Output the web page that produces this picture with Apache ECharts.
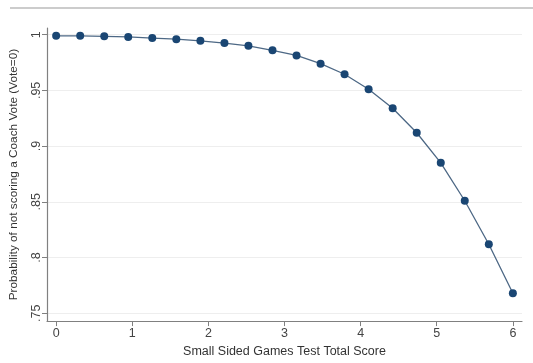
<!DOCTYPE html>
<html><head><meta charset="utf-8">
<script src="https://cdn.jsdelivr.net/npm/echarts@6/dist/echarts.min.js"></script>
<style>html,body{margin:0;padding:0;background:#fff}#c{width:533px;height:363px}</style>
</head><body><div id="c"></div>
<script>
const xValues = [0,0.316,0.632,0.947,1.263,1.579,1.895,2.211,2.526,2.842,3.158,3.474,3.789,4.105,4.421,4.737,5.053,5.368,5.684,6];
const yValues = [0.999,0.999,0.9985,0.998,0.997,0.996,0.9945,0.9925,0.990,0.986,0.9814,0.974,0.9645,0.951,0.934,0.912,0.885,0.851,0.812,0.768];
const xTicks = [0,1,2,3,4,5,6];
const yTicks = [0.75,0.8,0.85,0.9,0.95,1];
const xName = 'Small Sided Games Test Total Score';
const yName = 'Probability of not scoring a Coach Vote (Vote=0)';

const chart = echarts.init(document.getElementById('c'), null, {renderer:'canvas'});
const fmt = v => { const s = String(+v.toFixed(2)); return s.startsWith('0.') ? s.slice(1) : s; };
chart.setOption({
  animation:false,
  graphic:[{type:'line', shape:{x1:10,y1:8,x2:533,y2:8}, style:{stroke:'#bbb', lineWidth:1.5}}],
  grid:{left:47, right:11, top:28, bottom:38},
  xAxis:{type:'value', min:-0.12, max:6.12,
    name:xName, nameLocation:'middle', nameGap:22,
    nameTextStyle:{fontFamily:'Liberation Sans', fontSize:12.5, color:'#333'},
    axisLine:{show:true, onZero:false, lineStyle:{color:'#808080', width:1.2}},
    axisTick:{show:true, length:5, lineStyle:{color:'#808080'}, customValues:xTicks},
    axisLabel:{customValues:xTicks, margin:6, fontFamily:'Liberation Sans', fontSize:12.5, color:'#444', formatter:v=>String(v)},
    splitLine:{show:false}},
  yAxis:{type:'value', min:0.743, max:1.006,
    name:yName, nameLocation:'middle', nameGap:27, nameRotate:90,
    nameTextStyle:{fontFamily:'Liberation Sans', fontSize:11.8, color:'#333'},
    axisLine:{show:true, onZero:false, lineStyle:{color:'#808080', width:1.2}},
    axisTick:{show:true, length:5, lineStyle:{color:'#808080'}, customValues:yTicks},
    axisLabel:{customValues:yTicks, rotate:90, margin:4, fontFamily:'Liberation Sans', fontSize:12.5, color:'#444', formatter:fmt},
    splitLine:{show:true, lineStyle:{color:'#eeeeee', width:1}}},
  series:[{type:'line', data:xValues.map((x,i)=>[x,yValues[i]]),
    symbol:'circle', symbolSize:8, showAllSymbol:true,
    lineStyle:{color:'#4d6885', width:1.3},
    itemStyle:{color:'#1a4673', borderWidth:0}}]
});
</script></body></html>
